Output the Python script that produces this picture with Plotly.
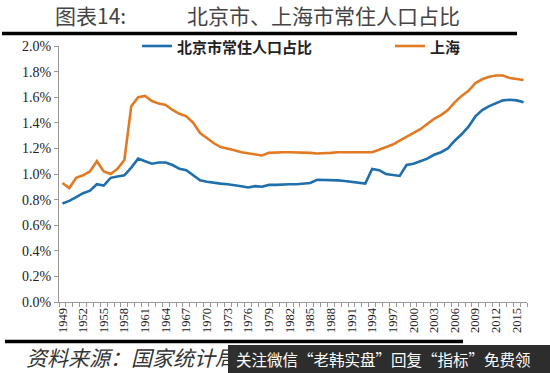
import plotly.graph_objects as go

years = list(range(1949, 2017))
beijing = [0.77, 0.79, 0.82, 0.85, 0.87, 0.92, 0.91, 0.97, 0.98, 0.99,
           1.05, 1.12, 1.10, 1.08, 1.09, 1.09, 1.07, 1.04, 1.03, 0.99,
           0.95, 0.94, 0.93, 0.925, 0.92, 0.915, 0.905, 0.895, 0.905, 0.90,
           0.915, 0.915, 0.92, 0.92, 0.92, 0.925, 0.93, 0.955, 0.955, 0.95,
           0.95, 0.945, 0.94, 0.935, 0.925, 1.04, 1.03, 1.00, 0.99, 0.985,
           1.07, 1.08, 1.10, 1.12, 1.15, 1.17, 1.20, 1.26, 1.31, 1.37,
           1.45, 1.50, 1.53, 1.555, 1.575, 1.58, 1.575, 1.56]
shanghai = [0.93, 0.89, 0.97, 0.99, 1.02, 1.10, 1.02, 1.00, 1.04, 1.11,
            1.53, 1.60, 1.61, 1.57, 1.55, 1.54, 1.50, 1.47, 1.45, 1.40,
            1.32, 1.28, 1.24, 1.21, 1.20, 1.185, 1.17, 1.16, 1.15, 1.145,
            1.165, 1.17, 1.17, 1.17, 1.17, 1.17, 1.165, 1.16, 1.16, 1.165,
            1.17, 1.17, 1.165, 1.165, 1.165, 1.17, 1.19, 1.21, 1.23, 1.26,
            1.29, 1.32, 1.35, 1.39, 1.43, 1.46, 1.50, 1.56, 1.61, 1.65,
            1.71, 1.74, 1.76, 1.77, 1.77, 1.75, 1.745, 1.735]
series_names = ["北京市常住人口占比", "上海"]
series_colors = ["#1f6fad", "#e27a24"]
label_years = years[::3]
y_ticks = [0.0, 0.2, 0.4, 0.6, 0.8, 1.0, 1.2, 1.4, 1.6, 1.8, 2.0]

W, H = 550, 373
L, R, T, B = 59, 23, 46, 71
PW, PH = W - L - R, H - T - B

def px(x):
    return (x - L) / PW

def py(y):
    return (H - B - y) / PH

fig = go.Figure()
for name, vals, col in zip(series_names, [beijing, shanghai], series_colors):
    fig.add_trace(go.Scatter(x=years, y=vals, mode="lines", name=name,
                             line=dict(color=col, width=2.6)))

fig.update_layout(
    width=W, height=H,
    margin=dict(l=L, r=R, t=T, b=B),
    paper_bgcolor="white", plot_bgcolor="white",
    showlegend=False,
    xaxis=dict(range=[1948.5, 2016.5], tickmode="array", tickvals=label_years,
               ticktext=[str(v) for v in label_years], tickangle=-90,
               ticks="", showgrid=False, zeroline=False,
               showline=True, linecolor="#999", linewidth=1,
               tickfont=dict(family="Liberation Serif", size=12.5, color="#222"),
               minor=dict(ticks="outside", tick0=1948.5, dtick=1, ticklen=4,
                          tickcolor="#999", showgrid=False)),
    yaxis=dict(range=[0, 2.0], tickmode="array", tickvals=y_ticks,
               ticktext=[f"{v:.1f}%" for v in y_ticks],
               ticks="outside", ticklen=4, tickcolor="#999",
               showgrid=False, zeroline=False, showline=True,
               linecolor="#999", linewidth=1,
               tickfont=dict(family="Liberation Serif", size=14, color="#222")),
)

annotations = [
    dict(text="图表14:", x=px(53), y=py(15), xref="paper", yref="paper",
         xanchor="left", yanchor="middle", showarrow=False,
         font=dict(family="Noto Sans CJK SC", size=21, color="#444")),
    dict(text="北京市、上海市常住人口占比", x=px(185), y=py(15), xref="paper", yref="paper",
         xanchor="left", yanchor="middle", showarrow=False,
         font=dict(family="Noto Sans CJK SC", size=21, color="#444")),
    dict(text="<i>资料来源：国家统计局</i>", x=px(24), y=py(357), xref="paper", yref="paper",
         xanchor="left", yanchor="middle", showarrow=False,
         font=dict(family="Noto Sans CJK SC", size=21, color="#333")),
    dict(text="关注微信“老韩实盘”回复“指标”免费领", x=px(234), y=py(359), xref="paper",
         yref="paper", xanchor="left", yanchor="middle", showarrow=False,
         font=dict(family="Noto Sans CJK SC", size=15.5, color="white")),
    # manual legend text
    dict(text="<b>" + series_names[0] + "</b>", x=px(175), y=py(46), xref="paper", yref="paper",
         xanchor="left", yanchor="middle", showarrow=False,
         font=dict(family="Noto Sans CJK SC", size=15, color="#222")),
    dict(text="<b>" + series_names[1] + "</b>", x=px(428), y=py(46), xref="paper", yref="paper",
         xanchor="left", yanchor="middle", showarrow=False,
         font=dict(family="Noto Sans CJK SC", size=15, color="#222")),
]
fig.update_layout(annotations=annotations)

shapes = [
    dict(type="line", xref="paper", yref="paper", x0=px(2), x1=px(517), y0=py(33.5), y1=py(33.5),
         line=dict(color="black", width=3.5)),
    dict(type="line", xref="paper", yref="paper", x0=px(5), x1=px(463), y0=py(341.5), y1=py(341.5),
         line=dict(color="black", width=3.5)),
    dict(type="rect", xref="paper", yref="paper", x0=px(228), x1=px(552), y0=py(345), y1=py(375),
         fillcolor="#2d2d2d", line=dict(width=0), layer="above"),
    dict(type="line", xref="paper", yref="paper", x0=px(142), x1=px(172), y0=py(46), y1=py(46),
         line=dict(color=series_colors[0], width=2.6)),
    dict(type="line", xref="paper", yref="paper", x0=px(395), x1=px(425), y0=py(46), y1=py(46),
         line=dict(color=series_colors[1], width=2.6)),
]
fig.update_layout(shapes=shapes)

fig.write_html("out.html",
               config={"displayModeBar": False},
               post_script="document.body.style.margin='0';document.body.style.padding='0';"
                           "document.documentElement.style.overflow='hidden';")
